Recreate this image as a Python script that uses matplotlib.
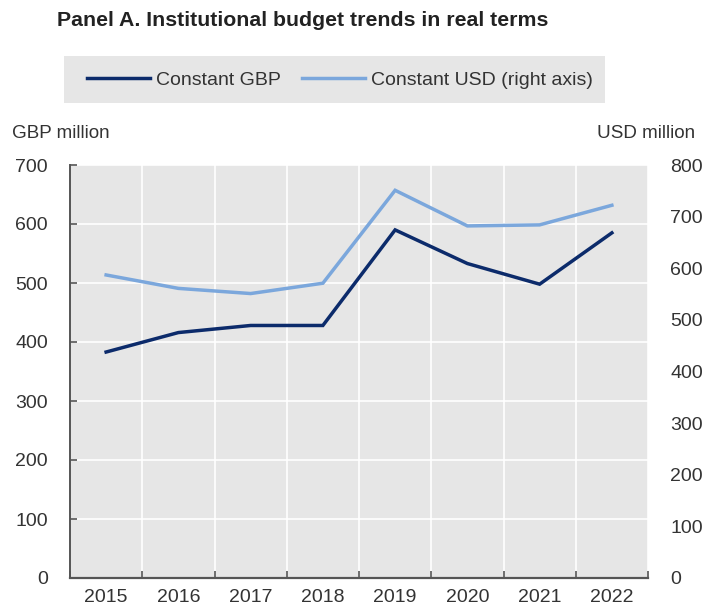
import matplotlib
matplotlib.use("Agg")
import matplotlib.pyplot as plt
from matplotlib.lines import Line2D
from matplotlib.patches import Rectangle

plt.rcParams['font.family'] = ['Liberation Sans', 'DejaVu Sans']

years = ["2015", "2016", "2017", "2018", "2019", "2020", "2021", "2022"]
gbp_constant = [383, 416, 428, 428, 590, 533, 498, 585]
usd_constant = [587, 561, 551, 571, 751, 682, 684, 722]

dark = '#0c2b6b'
light = '#7ba7dc'
txt = '#333333'
W, H = 705, 608

fig = plt.figure(figsize=(7.05, 6.08), dpi=100)
ax = fig.add_axes([70 / W, 30 / H, 578 / W, 413 / H])
ax2 = ax.twinx()

x = list(range(len(years)))
ax.set_facecolor('#e6e6e6')
ax.plot(x, gbp_constant, color=dark, lw=2.5, solid_joinstyle='miter', zorder=3)
ax2.plot(x, usd_constant, color=light, lw=2.5, solid_joinstyle='miter', zorder=3)

ax.set_xlim(-0.5, len(years) - 0.5)
ax.set_ylim(0, 700)
ax2.set_ylim(0, 800)
ax.set_yticks(range(0, 701, 100))
ax2.set_yticks(range(0, 801, 100))

ax.set_xticks(x)
ax.set_xticklabels(years)
ax.set_xticks([i + 0.5 for i in x[:-1]] + [-0.5, len(years) - 0.5], minor=True)
ax.tick_params(axis='x', which='major', length=0, pad=8, labelsize=14, labelcolor=txt)
ax.tick_params(axis='x', which='minor', length=5, width=1.2, direction='in', color='#555555')
ax.tick_params(axis='y', length=5, width=1.2, direction='in', color='#555555', pad=16, labelsize=14, labelcolor=txt)
ax2.tick_params(axis='y', length=0, pad=16, labelsize=14, labelcolor=txt)

ax.grid(axis='y', color='white', lw=1.2)
ax.grid(axis='x', which='minor', color='white', lw=1.2)
ax.set_axisbelow(True)

for s in ['top', 'right']:
    ax.spines[s].set_visible(False)
for s in ['top', 'right', 'left', 'bottom']:
    ax2.spines[s].set_visible(False)
ax.spines['left'].set_color('#555555')
ax.spines['left'].set_linewidth(1.4)
ax.spines['bottom'].set_color('#555555')
ax.spines['bottom'].set_linewidth(1.6)

fig.text(57 / W, 1 - 21 / H, "Panel A. Institutional budget trends in real terms",
         fontsize=15.3, fontweight='bold', color='#222222', va='center', ha='left')
fig.text(12 / W, 1 - 133 / H, "GBP million", fontsize=13.6, color=txt, va='center', ha='left')
fig.text(695 / W, 1 - 133 / H, "USD million", fontsize=13.6, color=txt, va='center', ha='right')

fig.patches.append(Rectangle((64 / W, 1 - 103 / H), 541 / W, 47 / H,
                             transform=fig.transFigure, facecolor='#e6e6e6',
                             edgecolor='none', zorder=0))
handles = [Line2D([0], [0], color=dark, lw=2.5), Line2D([0], [0], color=light, lw=2.5)]
leg = fig.legend(handles, ["Constant GBP", "Constant USD (right axis)"], ncol=2,
                 loc='center left', bbox_to_anchor=(71 / W, 1 - 80 / H), frameon=False,
                 fontsize=14, handlelength=3.25, handletextpad=0.3, columnspacing=1.1,
                 borderpad=0.3)
for t in leg.get_texts():
    t.set_color(txt)

fig.savefig('out.png', dpi=100)
